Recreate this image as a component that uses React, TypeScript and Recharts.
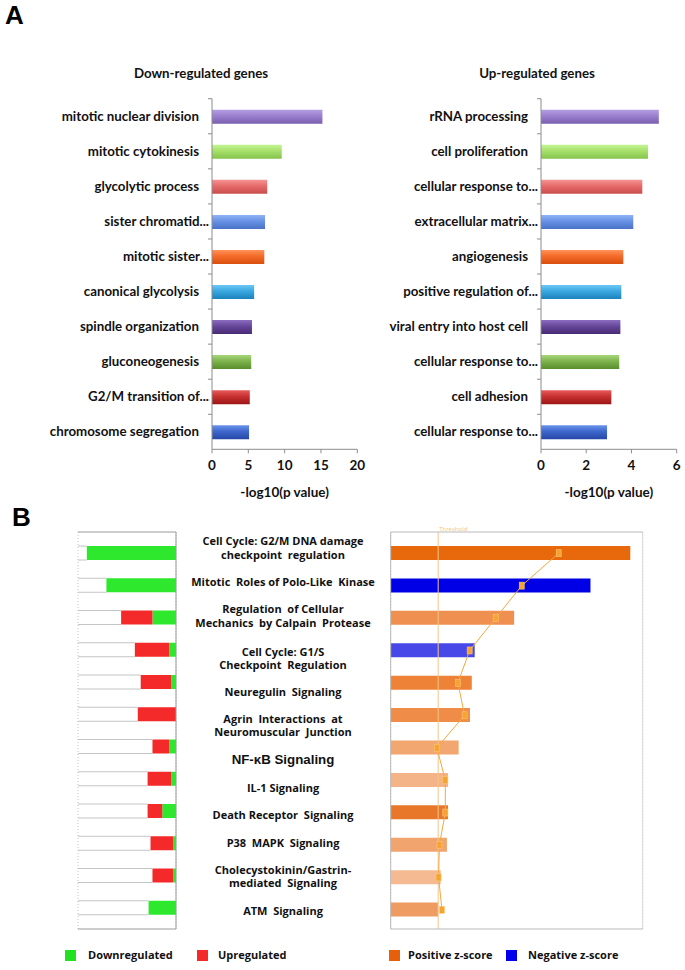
import React from "react";
import {
  BarChart,
  Bar,
  XAxis,
  YAxis,
  Cell,
  ComposedChart,
  Line,
  CartesianGrid,
  ReferenceLine,
} from "recharts";

// Panel A, GO terms
const downTerms = [
  "mitotic nuclear division",
  "mitotic cytokinesis",
  "glycolytic process",
  "sister chromatid...",
  "mitotic sister...",
  "canonical glycolysis",
  "spindle organization",
  "gluconeogenesis",
  "G2/M transition of...",
  "chromosome segregation",
];
const downLogP = [15.2, 9.6, 7.6, 7.3, 7.2, 5.8, 5.5, 5.4, 5.2, 5.1];

const upTerms = [
  "rRNA processing",
  "cell proliferation",
  "cellular response to...",
  "extracellular matrix...",
  "angiogenesis",
  "positive regulation of...",
  "viral entry into host cell",
  "cellular response to...",
  "cell adhesion",
  "cellular response to...",
];
const upLogP = [5.21, 4.73, 4.48, 4.08, 3.64, 3.55, 3.51, 3.46, 3.11, 2.92];

const downTicks = [0, 5, 10, 15, 20];
const upTicks = [0, 2, 4, 6];

// Panel B, canonical pathways
const pathways = [
  "Cell Cycle: G2/M DNA damage\ncheckpoint  regulation",
  "Mitotic  Roles of Polo-Like  Kinase",
  "Regulation  of Cellular\nMechanics  by Calpain  Protease",
  "Cell Cycle: G1/S\nCheckpoint  Regulation",
  "Neuregulin  Signaling",
  "Agrin  Interactions  at\nNeuromuscular  Junction",
  "NF-κB Signaling",
  "IL-1 Signaling",
  "Death Receptor  Signaling",
  "P38  MAPK  Signaling",
  "Cholecystokinin/Gastrin-\nmediated  Signaling",
  "ATM  Signaling",
];
const pctDown = [91, 71, 24, 7, 5, 0, 7, 5, 14, 3, 3, 28];
const pctUp = [0, 0, 32, 35, 31, 39, 17, 24, 15, 23, 21, 0];
const pathLogP = [6.56, 5.47, 3.38, 2.3, 2.22, 2.17, 1.86, 1.57, 1.57, 1.54, 1.37, 1.3];
const pathRatio = [0.2, 0.156, 0.125, 0.094, 0.08, 0.088, 0.055, 0.065, 0.065, 0.058, 0.057, 0.061];
const halfTicks = [0, 0.5, 1, 1.5, 2, 2.5, 3, 3.5, 4, 4.5, 5, 5.5, 6, 6.5];
const threshold = 1.3;

const downData = downTerms.map((term, i) => ({ term, value: downLogP[i] }));
const upData = upTerms.map((term, i) => ({ term: term, key: i, value: upLogP[i] }));
const pathData = pathways.map((name, i) => ({
  name,
  down: pctDown[i],
  up: pctUp[i],
  rest: 100 - pctDown[i] - pctUp[i],
  logP: pathLogP[i],
  ratio: pathRatio[i],
}));

// excel-like gradient triples (top, mid, bottom)
const barGrad = [
  ["#b59fe3", "#9a7fcf", "#7a5fae"],
  ["#c4f594", "#a6e06a", "#84c34c"],
  ["#f59494", "#e66a6a", "#c84c4c"],
  ["#8fb4f5", "#6892e6", "#4a72c8"],
  ["#ff935a", "#f56a28", "#d8500e"],
  ["#6cc8f5", "#3aa6e0", "#1a82bc"],
  ["#8a6cc0", "#664698", "#482a74"],
  ["#a6d67a", "#7cb24a", "#5a8c2e"],
  ["#e85a5a", "#c83030", "#9c1616"],
  ["#6a94ea", "#3e66cc", "#2648a6"],
];

const zColors = [
  "#e8680c", "#0000e6", "#ef9050", "#4848e8", "#ee8236", "#ef8c48",
  "#f2a670", "#f4b488", "#e9772a", "#f1a46e", "#f5ba92", "#ef9c62",
];

const Grads = ({ prefix }: { prefix: string }) => (
  <defs>
    {barGrad.map((g, i) => (
      <linearGradient key={i} id={`${prefix}${i}`} x1="0" y1="0" x2="0" y2="1">
        <stop offset="0%" stopColor={g[0]} />
        <stop offset="45%" stopColor={g[1]} />
        <stop offset="100%" stopColor={g[2]} />
      </linearGradient>
    ))}
  </defs>
);

function TermTick(props: any) {
  const { x, y, payload } = props;
  const t: string = payload.value;
  const cut = t.endsWith("...");
  return (
    <g>
      <line x1={x - 4} x2={x} y1={y - 17.5} y2={y - 17.5} stroke="#8c8c8c" />
      <text
        x={x - (cut ? 3 : 13)}
        y={y}
        dy={4.5}
        textAnchor="end"
        fontFamily="Lato"
        fontWeight={700}
        fontSize={13.3}
        fill="#111"
      >
        {t}
      </text>
    </g>
  );
}

const labelNudge = [-5, -3.5, -1.5, 8.5, 9.5, 11, 13, 9, 3.5, 0, 1, 3];

function PathTick(props: any) {
  const { x, y, payload, index } = props;
  const lines: string[] = String(payload.value).split("\n");
  const big = payload.value.includes("κ");
  const fs = big ? 13.3 : 11;
  const lh = 13.5;
  const cy = y + (labelNudge[index] ?? 0);
  return (
    <text
      x={x + 107}
      y={cy - ((lines.length - 1) * lh) / 2}
      textAnchor="middle"
      fontFamily={big ? "Liberation Sans" : "Open Sans"}
      fontWeight={700}
      fontSize={fs}
      fill="#111"
      style={{ whiteSpace: "pre" }}
    >
      {lines.map((l, i) => (
        <tspan key={i} x={x + 107} dy={i === 0 ? 4 : lh}>
          {l}
        </tspan>
      ))}
    </text>
  );
}

const RestShape = (props: any) => {
  const { x, y, width, height } = props;
  return (
    <g>
      <rect x={x} y={y} width={width} height={height} fill="#fff" />
      <line x1={x} x2={x + width} y1={y} y2={y} stroke="#c4c4c4" />
      <line x1={x} x2={x + width} y1={y + height} y2={y + height} stroke="#c4c4c4" />
    </g>
  );
};

const SquareDot = (props: any) => {
  const { cx, cy } = props;
  if (cx == null || cy == null) return null;
  return <rect x={cx - 2.5} y={cy - 3.5} width={5} height={7} fill="#f7a330" stroke="#fbc77a" strokeWidth={0.6} />;
};

const ThresholdLabel = (props: any) => {
  const vb = props.viewBox || {};
  return (
    <text x={(vb.x ?? 0) + 1} y={(vb.y ?? 0) - 1} fontSize={6} fill="#f3c48a" fontFamily="Open Sans">
      Threshold
    </text>
  );
};

const axisGray = "#8c8c8c";
const tickFont = { fontFamily: "Lato", fontWeight: 700, fontSize: 13.5, fill: "#111" };

function GoChart({
  data,
  ticks,
  domain,
  yWidth,
  width,
  rightMargin,
  prefix,
}: any) {
  return (
    <BarChart
      layout="vertical"
      width={width}
      height={440}
      data={data}
      margin={{ top: 18.7, right: rightMargin, bottom: 20.7, left: 0 }}
      barSize={14}
    >
      <Grads prefix={prefix} />
      <XAxis
        type="number"
        domain={domain}
        ticks={ticks}
        tick={tickFont}
        tickSize={4}
        tickMargin={7}
        stroke={axisGray}
        height={50}
        label={{
          value: "-log10(p value)",
          position: "insideBottom",
          offset: 2,
          style: { fontFamily: "Lato", fontWeight: 700, fontSize: 13.5, fill: "#111" },
        }}
      />
      <YAxis
        type="category"
        dataKey="term"
        width={yWidth}
        tickLine={false}
        tickSize={0}
        tickMargin={0}
        stroke={axisGray}
        interval={0}
        tick={<TermTick />}
      />
      <Bar dataKey="value" isAnimationActive={false}>
        {data.map((_: any, i: number) => (
          <Cell key={i} fill={`url(#${prefix}${i})`} />
        ))}
      </Bar>
    </BarChart>
  );
}

const title = {
  position: "absolute" as const,
  fontFamily: "Lato",
  fontWeight: 700,
  fontSize: 13.3,
  color: "#111",
  transform: "translate(-50%, -50%)",
  whiteSpace: "nowrap" as const,
};

const legendText = {
  position: "absolute" as const,
  fontFamily: "Open Sans",
  fontWeight: 700,
  fontSize: 11,
  color: "#111",
  top: 947,
  whiteSpace: "nowrap" as const,
};

const sq = (left: number, color: string) => (
  <div style={{ position: "absolute", left, top: 950, width: 11, height: 11, background: color }} />
);

export default function App() {
  return (
    <div style={{ position: "absolute", left: 0, top: 0, width: 685, height: 970, background: "#fff" }}>
      <div style={{ position: "absolute", left: 5, top: 0, fontFamily: "Liberation Sans", fontWeight: 700, fontSize: 26 }}>A</div>
      <div style={{ position: "absolute", left: 12, top: 502, fontFamily: "Liberation Sans", fontWeight: 700, fontSize: 26 }}>B</div>

      <div style={{ ...title, left: 201, top: 73 }}>Down-regulated genes</div>
      <div style={{ ...title, left: 537, top: 73 }}>Up-regulated genes</div>

      <div style={{ position: "absolute", left: 0, top: 80 }}>
        <GoChart data={downData} ticks={downTicks} domain={[0, 20]} yWidth={212} width={380} rightMargin={22.7} prefix="gd" />
      </div>
      <div style={{ position: "absolute", left: 340, top: 80 }}>
        <GoChart data={upData} ticks={upTicks} domain={[0, 6]} yWidth={201} width={345} rightMargin={8.3} prefix="gu" />
      </div>

      {/* B left: share of up / down genes */}
      <div style={{ position: "absolute", left: 60, top: 520 }}>
        <ComposedChart
          layout="vertical"
          width={330}
          height={420}
          data={pathData}
          margin={{ top: 6, right: 0, bottom: 5, left: 18 }}
          barSize={14}
        >
          <CartesianGrid xAxisId="top" horizontal={false} strokeDasharray="1 2" stroke="#c4c4c4" />
          <XAxis xAxisId="top" orientation="top" type="number" domain={[0, 100]} reversed ticks={[0, 45, 90]} tick={false} tickSize={4} height={6} stroke="#9a9a9a" />
          <XAxis xAxisId="bot" orientation="bottom" type="number" domain={[0, 100]} reversed ticks={[0, 41, 82]} tick={false} tickSize={4} height={6} stroke="#9a9a9a" />
          <YAxis
            type="category"
            dataKey="name"
            orientation="right"
            width={214}
            tickLine={false}
            tickSize={0}
            tickMargin={0}
            interval={0}
            stroke="#9a9a9a"
            padding={{ top: 5, bottom: 5 }}
            tick={<PathTick />}
          />
          <Bar xAxisId="top" dataKey="down" stackId="s" fill="#2ee82e" isAnimationActive={false} />
          <Bar xAxisId="top" dataKey="up" stackId="s" fill="#f42a2a" isAnimationActive={false} />
          <Bar xAxisId="top" dataKey="rest" stackId="s" fill="#fff" shape={<RestShape />} isAnimationActive={false} />
        </ComposedChart>
      </div>

      {/* B right: significance + ratio */}
      <div style={{ position: "absolute", left: 380, top: 520 }}>
        <ComposedChart
          layout="vertical"
          width={300}
          height={420}
          data={pathData}
          margin={{ top: 6, right: 37.3, bottom: 5, left: 10.7 }}
          barSize={14}
        >
          <CartesianGrid xAxisId="top" horizontal={false} strokeDasharray="1 2" stroke="#d4d4d4" />
          <XAxis xAxisId="top" orientation="top" type="number" domain={[0, 6.9]} ticks={halfTicks} tick={false} tickSize={3} height={6} stroke="#b8b8b8" />
          <XAxis xAxisId="bot" orientation="bottom" type="number" domain={[0, 6.9]} ticks={halfTicks} tick={false} tickSize={3} height={6} stroke="#b8b8b8" />
          <XAxis xAxisId="ratio" type="number" domain={[0, 0.3]} hide />
          <YAxis type="category" dataKey="name" hide padding={{ top: 5, bottom: 3 }} />
          <ReferenceLine xAxisId="top" x={0} stroke="#b8b8b8" />
          <ReferenceLine xAxisId="top" x={6.9} stroke="#d8d8d8" />
          <ReferenceLine xAxisId="top" x={threshold} stroke="#f3c48a" label={<ThresholdLabel />} />
          <Bar xAxisId="top" dataKey="logP" isAnimationActive={false}>
            {pathData.map((_, i) => (
              <Cell key={i} fill={zColors[i]} />
            ))}
          </Bar>
          <Line
            xAxisId="ratio"
            dataKey="ratio"
            type="linear"
            stroke="#f3a93f"
            strokeWidth={1}
            dot={<SquareDot />}
            activeDot={false}
            isAnimationActive={false}
          />
        </ComposedChart>
      </div>

      {sq(65, "#22e022")}
      <div style={{ ...legendText, left: 88 }}>Downregulated</div>
      {sq(197, "#f42a2a")}
      <div style={{ ...legendText, left: 218 }}>Upregulated</div>
      {sq(389, "#e85f0a")}
      <div style={{ ...legendText, left: 408 }}>Positive z-score</div>
      {sq(506, "#0000ee")}
      <div style={{ ...legendText, left: 528 }}>Negative z-score</div>
    </div>
  );
}
